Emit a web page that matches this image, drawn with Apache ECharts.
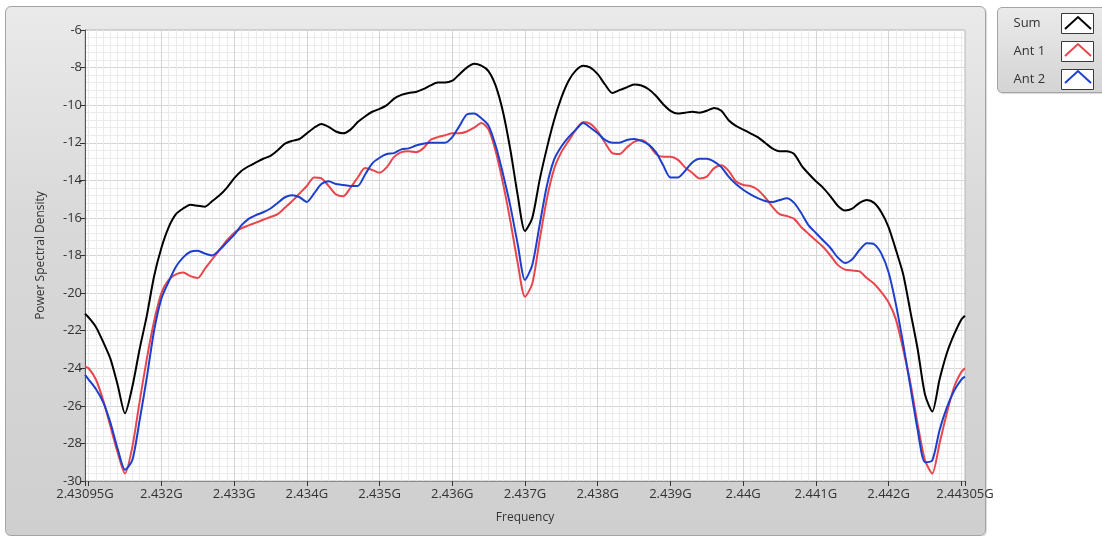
<!DOCTYPE html>
<html>
<head>
<meta charset="utf-8">
<script src="https://cdn.jsdelivr.net/npm/echarts@6/dist/echarts.min.js"></script>
<style>
  html, body { margin: 0; padding: 0; background: #ffffff; width: 1102px; height: 536px; overflow: hidden; }
  .panel { position: absolute; left: 5px; top: 6px; width: 981px; height: 530px; border: 1px solid #a4a4a4; border-radius: 6px;
           background: linear-gradient(#eaeaea, #d9d9d9 40%, #cfcfcf); box-sizing: border-box; box-shadow: 1px 1px 1px rgba(0,0,0,0.15); }
  .lpanel { position: absolute; left: 997px; top: 7px; width: 120px; height: 86px; border: 1px solid #a4a4a4; border-radius: 5px;
            background: linear-gradient(#eaeaea, #d4d4d4); box-sizing: border-box; box-shadow: 1px 1px 1px rgba(0,0,0,0.15); }
  #chart { position: absolute; left: 0; top: 0; width: 1102px; height: 536px; }
</style>
</head>
<body>
<div class="panel"></div>
<div class="lpanel"></div>
<div id="chart"></div>
<script>
// Frequencies in MHz
const freq = [2430.95,2431.0,2431.1,2431.2,2431.3,2431.4,2431.5,2431.6,2431.7,2431.8,2431.9,
  2432.0,2432.1,2432.2,2432.3,2432.4,2432.5,2432.6,2432.7,2432.8,2432.9,
  2433.0,2433.1,2433.2,2433.3,2433.4,2433.5,2433.6,2433.7,2433.8,2433.9,
  2434.0,2434.1,2434.2,2434.3,2434.4,2434.5,2434.6,2434.7,2434.8,2434.9,
  2435.0,2435.1,2435.2,2435.3,2435.4,2435.5,2435.6,2435.7,2435.8,2435.9,
  2436.0,2436.1,2436.2,2436.3,2436.4,2436.5,2436.6,2436.7,2436.8,2436.9,
  2437.0,2437.1,2437.2,2437.3,2437.4,2437.5,2437.6,2437.7,2437.8,2437.9,
  2438.0,2438.1,2438.2,2438.3,2438.4,2438.5,2438.6,2438.7,2438.8,2438.9,
  2439.0,2439.1,2439.2,2439.3,2439.4,2439.5,2439.6,2439.7,2439.8,2439.9,
  2440.0,2440.1,2440.2,2440.3,2440.4,2440.5,2440.6,2440.7,2440.8,2440.9,
  2441.0,2441.1,2441.2,2441.3,2441.4,2441.5,2441.6,2441.7,2441.8,2441.9,
  2442.0,2442.1,2442.2,2442.3,2442.4,2442.5,2442.6,2442.7,2442.8,2442.9,
  2443.0,2443.05];

const sumPsd = [-21.1,-21.3,-21.8,-22.6,-23.5,-24.9,-26.4,-25.0,-23.0,-21.2,-19.1,
  -17.6,-16.5,-15.8,-15.5,-15.3,-15.35,-15.4,-15.1,-14.8,-14.4,
  -13.9,-13.5,-13.25,-13.05,-12.85,-12.7,-12.4,-12.05,-11.9,-11.8,
  -11.5,-11.2,-11.0,-11.15,-11.4,-11.5,-11.3,-10.9,-10.6,-10.35,
  -10.2,-10.0,-9.65,-9.45,-9.35,-9.3,-9.15,-8.95,-8.8,-8.8,
  -8.7,-8.35,-8.0,-7.8,-7.9,-8.2,-9.0,-10.4,-12.4,-14.8,
  -16.7,-16.0,-14.0,-12.3,-10.8,-9.6,-8.7,-8.15,-7.9,-8.0,
  -8.35,-8.9,-9.35,-9.2,-9.05,-8.9,-8.95,-9.15,-9.5,-9.95,
  -10.3,-10.45,-10.4,-10.35,-10.4,-10.3,-10.15,-10.3,-10.8,-11.1,
  -11.3,-11.5,-11.7,-12.0,-12.3,-12.45,-12.45,-12.6,-13.2,-13.65,
  -14.05,-14.4,-14.85,-15.35,-15.6,-15.5,-15.2,-15.05,-15.2,-15.7,
  -16.5,-17.7,-19.0,-21.0,-23.0,-25.4,-26.3,-24.6,-23.2,-22.2,
  -21.4,-21.2];

const ant1Psd = [-23.9,-24.0,-24.6,-25.7,-27.1,-28.5,-29.6,-28.2,-25.8,-23.5,-21.5,
  -20.0,-19.3,-19.0,-18.9,-19.1,-19.2,-18.7,-18.2,-17.7,-17.2,
  -16.8,-16.55,-16.4,-16.25,-16.1,-15.95,-15.8,-15.45,-15.1,-14.7,
  -14.3,-13.85,-13.9,-14.3,-14.75,-14.85,-14.4,-13.85,-13.35,-13.45,
  -13.6,-13.3,-12.75,-12.5,-12.45,-12.5,-12.3,-11.85,-11.7,-11.6,
  -11.5,-11.5,-11.4,-11.2,-10.95,-11.3,-12.5,-14.2,-16.2,-18.4,
  -20.2,-19.5,-17.2,-15.0,-13.4,-12.5,-11.9,-11.3,-10.9,-11.0,
  -11.4,-12.0,-12.55,-12.6,-12.25,-11.95,-11.85,-12.1,-12.6,-12.75,
  -12.75,-12.9,-13.3,-13.6,-13.9,-13.8,-13.35,-13.2,-13.5,-14.05,
  -14.25,-14.3,-14.5,-14.9,-15.4,-15.8,-15.9,-16.05,-16.5,-16.85,
  -17.2,-17.55,-18.0,-18.5,-18.75,-18.8,-18.85,-19.2,-19.5,-19.95,
  -20.5,-21.4,-23.0,-24.8,-27.0,-28.9,-29.6,-28.0,-26.4,-25.0,
  -24.2,-24.0];

const ant2Psd = [-24.35,-24.6,-25.1,-25.8,-26.9,-28.3,-29.4,-28.9,-26.8,-24.5,-22.0,
  -20.3,-19.4,-18.6,-18.1,-17.8,-17.75,-17.9,-18.0,-17.7,-17.3,
  -16.9,-16.4,-16.05,-15.85,-15.7,-15.5,-15.2,-14.9,-14.8,-14.9,
  -15.15,-14.7,-14.2,-14.05,-14.2,-14.25,-14.3,-14.3,-13.7,-13.1,
  -12.8,-12.6,-12.55,-12.35,-12.3,-12.15,-12.05,-12.0,-12.0,-12.0,
  -11.7,-11.1,-10.5,-10.45,-10.7,-11.1,-12.2,-13.7,-15.4,-17.4,
  -19.3,-18.5,-16.4,-14.3,-12.9,-12.2,-11.7,-11.3,-10.95,-11.2,
  -11.5,-11.85,-12.0,-12.0,-11.85,-11.8,-11.9,-12.1,-12.5,-13.2,
  -13.85,-13.85,-13.5,-13.05,-12.85,-12.85,-13.0,-13.3,-13.8,-14.2,
  -14.5,-14.75,-14.95,-15.1,-15.15,-15.05,-14.95,-15.2,-15.75,-16.4,
  -16.8,-17.2,-17.6,-18.1,-18.4,-18.2,-17.7,-17.35,-17.4,-17.9,
  -18.9,-20.6,-22.7,-25.0,-27.3,-29.0,-28.9,-27.3,-26.1,-25.2,
  -24.6,-24.45];

const seriesNames = ['Sum', 'Ant 1', 'Ant 2'];
const xLabelValues = [2430.95,2432,2433,2434,2435,2436,2437,2438,2439,2440,2441,2442,2443.05];
const xTickValues = [2430.95,2431,2432,2433,2434,2435,2436,2437,2438,2439,2440,2441,2442,2443,2443.05];
const xMajorGrid = [2432,2433,2434,2435,2436,2437,2438,2439,2440,2441,2442];
const xMinorGrid = [];
for (let k = 24310; k <= 24430; k++) xMinorGrid.push(k / 10);

const colors = ['#000000', '#e8464c', '#1c3fcc'];
const font = 'Open Sans, Noto Sans, sans-serif';

const chart = echarts.init(document.getElementById('chart'), null, {renderer: 'canvas'});
const fmt = v => parseFloat((v / 1000).toFixed(5)) + 'G';
const pairs = arr => freq.map((f, i) => [f, arr[i]]);

const hiddenX = (vals, color, z) => ({
  type: 'value', min: 2430.95, max: 2443.05, gridIndex: 0, z: z,
  axisLine: {show: false}, axisLabel: {show: false},
  axisTick: {show: false, customValues: vals},
  splitLine: {show: true, lineStyle: {color: color, width: 1}}
});

chart.setOption({
  backgroundColor: 'transparent',
  animation: false,
  textStyle: {fontFamily: font},
  grid: {left: 85, top: 30, width: 880, height: 451, show: true, backgroundColor: '#ffffff',
         borderColor: '#b4b4b4', borderWidth: 1, containLabel: false},
  legend: {
    orient: 'vertical', right: 8, top: 13, padding: 0, itemGap: 7, itemWidth: 32, itemHeight: 20,
    align: 'right', icon: 'rect', data: seriesNames,
    itemStyle: {color: '#ffffff', borderColor: '#3a3a3a', borderWidth: 1},
    formatter: name => '{t|' + name + '}',
    textStyle: {fontFamily: font, fontSize: 13, color: '#333',
                rich: {t: {width: 43, align: 'left', fontSize: 13, fontFamily: font, color: '#333'}}},
    selectedMode: false
  },
  xAxis: [
    {
      type: 'value', min: 2430.95, max: 2443.05, gridIndex: 0, z: 3,
      name: 'Frequency', nameLocation: 'middle', nameGap: 31,
      nameTextStyle: {fontSize: 12, color: '#333'},
      axisLine: {show: true, lineStyle: {color: '#8c8c8c'}},
      axisTick: {show: true, length: 5, lineStyle: {color: '#333'}, customValues: xTickValues},
      axisLabel: {customValues: xLabelValues, formatter: fmt, color: '#333', fontSize: 13, margin: 7,
                  showMinLabel: true, showMaxLabel: true},
      splitLine: {show: false}
    },
    hiddenX(xMinorGrid, '#ebebeb', 0),
    hiddenX(xMajorGrid, '#d4d4d4', 1)
  ],
  yAxis: {
    type: 'value', min: -30, max: -6, interval: 2,
    name: 'Power Spectral Density', nameLocation: 'middle', nameGap: 38,
    nameTextStyle: {fontSize: 12, color: '#333'},
    axisLine: {show: true, lineStyle: {color: '#555'}},
    axisTick: {show: true, length: 5, lineStyle: {color: '#333'}},
    axisLabel: {color: '#333', fontSize: 13, margin: 3},
    splitLine: {show: true, lineStyle: {color: '#d4d4d4'}},
    minorTick: {show: false, splitNumber: 5},
    minorSplitLine: {show: true, lineStyle: {color: '#ebebeb'}}
  },
  series: [
    {name: seriesNames[0], type: 'line', data: pairs(sumPsd)},
    {name: seriesNames[1], type: 'line', data: pairs(ant1Psd)},
    {name: seriesNames[2], type: 'line', data: pairs(ant2Psd)}
  ].map((s, i) => Object.assign(s, {
    xAxisIndex: 0, showSymbol: false, smooth: 0.25, color: colors[i],
    lineStyle: {color: colors[i], width: 2}, z: 5
  })),
  graphic: [0, 1, 2].map(i => ({
    type: 'polyline', z: 100,
    shape: {points: [[1065, 29 + 27 * i], [1078, 17 + 27 * i], [1091, 29 + 27 * i]]},
    style: {stroke: colors[i], lineWidth: 2, fill: null}
  }))
});
</script>
</body>
</html>
